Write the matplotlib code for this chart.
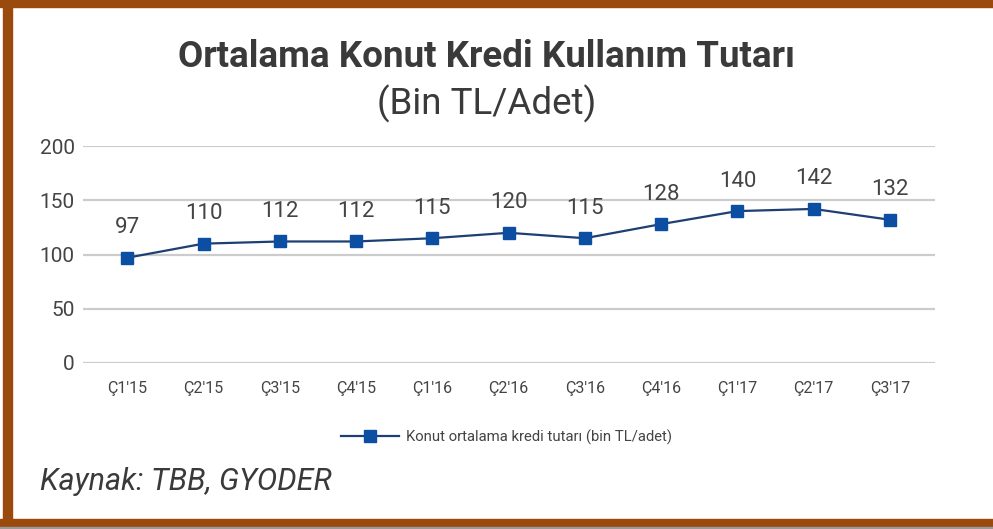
import matplotlib.pyplot as plt
from matplotlib.patches import Rectangle
from matplotlib.lines import Line2D

plt.rcParams['font.family'] = ['Roboto', 'DejaVu Sans']

# Quarterly average housing loan amount (thousand TL per loan)
quarters = ["Ç1'15", "Ç2'15", "Ç3'15", "Ç4'15", "Ç1'16", "Ç2'16",
            "Ç3'16", "Ç4'16", "Ç1'17", "Ç2'17", "Ç3'17"]
avg_loan = [97, 110, 112, 112, 115, 120, 115, 128, 140, 142, 132]
y_ticks = [0, 50, 100, 150, 200]

line_color = '#1d3f73'
marker_color = '#0b4ea2'
text_color = '#444444'
frame_color = '#9a4a0c'

fig = plt.figure(figsize=(9.93, 5.29), dpi=100)
ax = fig.add_axes([83 / 993, 166 / 529, 852 / 993, 217 / 529])

x = list(range(len(quarters)))
ax.plot(x, avg_loan, color=line_color, linewidth=1.6, marker='s',
        markersize=8.5, markerfacecolor=marker_color,
        markeredgecolor=marker_color, zorder=3)

for xi, v in zip(x, avg_loan):
    ax.annotate(str(v), (xi, v), xytext=(0, 14), textcoords='offset points',
                ha='center', va='bottom', fontsize=16, color=text_color)

ax.set_xlim(-0.58, 10.59)
ax.set_ylim(0, 200)
ax.set_yticks(y_ticks)
ax.set_xticks(x)
ax.set_xticklabels(quarters, fontsize=11.5, color=text_color)
ax.tick_params(axis='y', labelsize=15, labelcolor=text_color, length=0, pad=6)
ax.tick_params(axis='x', length=0, pad=13)
ax.grid(axis='y', color='#cccccc', linewidth=1.6)
ax.set_axisbelow(True)
for s in ax.spines.values():
    s.set_visible(False)

# title and subtitle
fig.text(0.49, 1 - 57 / 529, 'Ortalama Konut Kredi Kullanım Tutarı',
         ha='center', va='center', fontsize=26.5, fontweight='bold',
         color='#3a3a3a')
fig.text(0.49, 1 - 104 / 529, '(Bin TL/Adet)', ha='center', va='center',
         fontsize=26.5, color='#3a3a3a')

# legend
handle = Line2D([0], [0], color=line_color, linewidth=1.6, marker='s',
                markersize=8, markerfacecolor=marker_color,
                markeredgecolor=marker_color)
fig.legend(handles=[handle], labels=['Konut ortalama kredi tutarı (bin TL/adet)'],
           loc='center', bbox_to_anchor=(0.51, 1 - 437 / 529), frameon=False,
           fontsize=10.7, labelcolor=text_color, handlelength=3.9,
           handletextpad=0.5)

# source note
fig.text(40 / 993, 1 - 481 / 529, 'Kaynak: TBB, GYODER', ha='left',
         va='center', fontsize=22, style='italic', color='#3a3a3a')

# brown frame
W, H = 993, 529
fig.patches.append(Rectangle((0, 1 - 7 / H), 1, 7 / H, transform=fig.transFigure,
                             color=frame_color, zorder=0))
fig.patches.append(Rectangle((3 / W, 0), 9 / W, 1, transform=fig.transFigure,
                             color=frame_color, zorder=0))
fig.patches.append(Rectangle((0, 2 / H), 1, 8 / H, transform=fig.transFigure,
                             color=frame_color, zorder=0))
fig.patches.append(Rectangle((0, 0), 1, 2 / H, transform=fig.transFigure,
                             color='#9a9a9a', zorder=0))

fig.savefig('out.png', dpi=100)
